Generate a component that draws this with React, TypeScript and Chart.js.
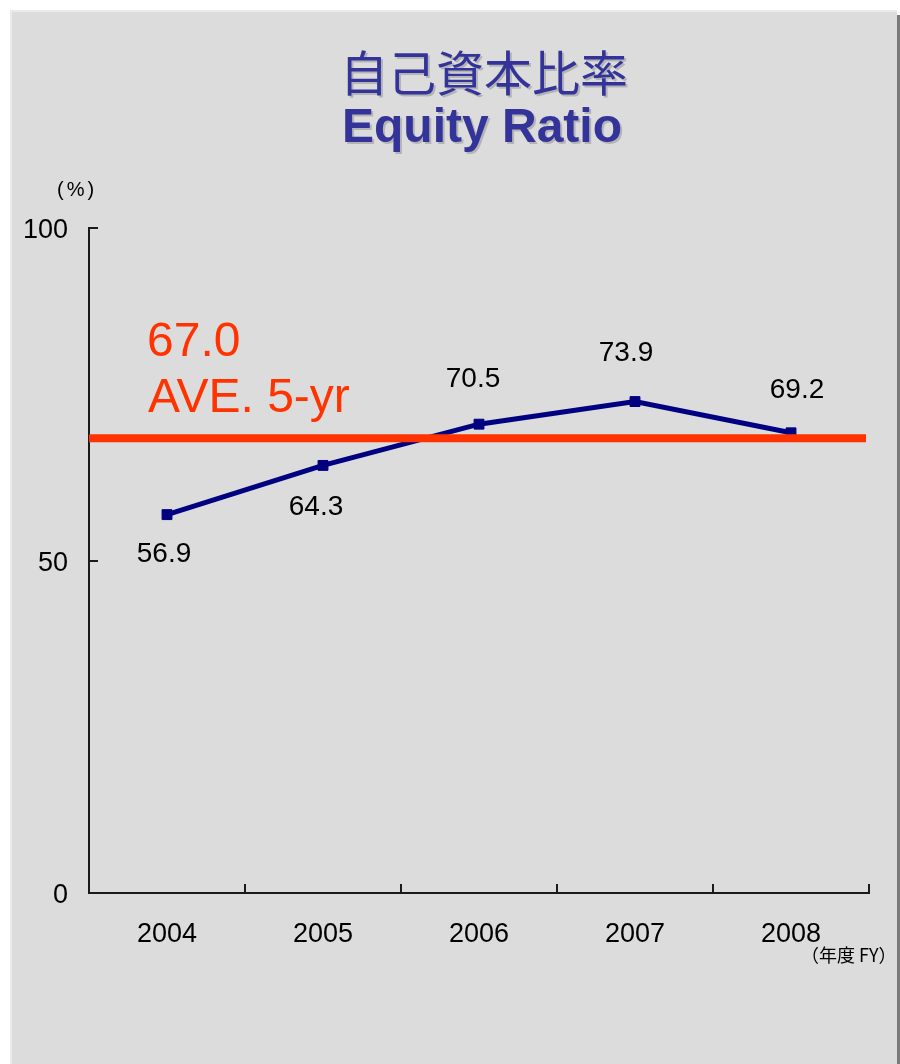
import React, { useEffect, useRef } from "react";
import { Chart, registerables } from "chart.js";

Chart.register(...registerables);

// ---- data ----
const years = ["2004", "2005", "2006", "2007", "2008"];
const equityRatio = [56.9, 64.3, 70.5, 73.9, 69.2];
const yTicks = [0, 50, 100];
const averageText = "67.0";
const averageCaption = "AVE. 5-yr";
const averageLineLevel = 68.4; // level at which the average bar is drawn in the picture
const titleJa = "自己資本比率";
const titleEn = "Equity Ratio";
const yUnit = "(%)";
const xUnit = "（年度 FY）";

// ---- layout (not data) ----
const labelOffsets: [number, number][] = [
  [-3, 40],
  [-7, 42],
  [-6, -45],
  [-9, -48],
  [6, -43],
];

const FONT = "'Liberation Sans', Arial, sans-serif";
const CJK = "'Noto Sans CJK JP', 'Liberation Sans', sans-serif";
const AXIS_COLOR = "#1a1a1a";

const decorPlugin = {
  id: "decor",
  afterDatasetsDraw(chart: any) {
    const { ctx, chartArea, scales } = chart;
    const xs = scales.x;
    const ys = scales.y;
    ctx.save();
    // inward tick marks
    ctx.strokeStyle = AXIS_COLOR;
    ctx.lineWidth = 2;
    yTicks.forEach((v) => {
      const py = Math.round(ys.getPixelForValue(v));
      ctx.beginPath();
      ctx.moveTo(chartArea.left, py);
      ctx.lineTo(chartArea.left + 9, py);
      ctx.stroke();
    });
    const n = years.length;
    for (let i = 0; i <= n; i++) {
      let px: number;
      if (i === 0) px = chartArea.left;
      else if (i === n) px = chartArea.right;
      else px = (xs.getPixelForValue(i - 1) + xs.getPixelForValue(i)) / 2;
      px = Math.round(px);
      ctx.beginPath();
      ctx.moveTo(px, chartArea.bottom);
      ctx.lineTo(px, chartArea.bottom - 9);
      ctx.stroke();
    }
    // average bar
    const ay = ys.getPixelForValue(averageLineLevel);
    ctx.strokeStyle = "#FF3300";
    ctx.lineWidth = 8;
    ctx.beginPath();
    ctx.moveTo(chartArea.left, ay);
    ctx.lineTo(chartArea.right - 3, ay);
    ctx.stroke();
    // data labels
    const meta = chart.getDatasetMeta(0);
    ctx.fillStyle = "#000";
    ctx.font = `28px ${FONT}`;
    ctx.textAlign = "center";
    ctx.textBaseline = "middle";
    meta.data.forEach((pt: any, i: number) => {
      const [dx, dy] = labelOffsets[i];
      ctx.fillText(equityRatio[i].toFixed(1), pt.x + dx, pt.y + dy);
    });
    ctx.restore();
  },
};

export default function App() {
  const canvasRef = useRef<HTMLCanvasElement | null>(null);

  useEffect(() => {
    const canvas = canvasRef.current;
    if (!canvas) return;
    const chart = new Chart(canvas, {
      type: "line",
      data: {
        labels: years,
        datasets: [
          {
            data: equityRatio,
            borderColor: "#000080",
            backgroundColor: "#000080",
            borderWidth: 5,
            pointStyle: "rect",
            pointRadius: 7,
            pointBorderWidth: 1,
            pointBackgroundColor: "#000080",
            pointBorderColor: "#000080",
            tension: 0,
            fill: false,
            clip: false,
          },
        ],
      },
      options: {
        responsive: false,
        animation: false,
        events: [],
        layout: { padding: { top: 228, right: 31, left: 0, bottom: 0 } },
        plugins: {
          legend: { display: false },
          tooltip: { enabled: false },
          title: { display: false },
        },
        scales: {
          x: {
            type: "category",
            offset: true,
            grid: { display: false, drawTicks: false, offset: true },
            border: { display: true, color: AXIS_COLOR, width: 2 },
            ticks: {
              color: "#000",
              font: { family: FONT, size: 27 },
              padding: 25,
              maxRotation: 0,
              autoSkip: false,
            },
            afterFit: (s: any) => {
              s.height = 171;
            },
          },
          y: {
            type: "linear",
            min: 0,
            max: 100,
            grid: { display: false, drawTicks: false },
            border: { display: true, color: AXIS_COLOR, width: 2 },
            ticks: {
              color: "#000",
              font: { family: FONT, size: 27 },
              padding: 21,
              labelOffset: 3,
            },
            afterBuildTicks: (s: any) => {
              s.ticks = yTicks.map((v) => ({ value: v }));
            },
            afterFit: (s: any) => {
              s.width = 89;
            },
          },
        },
      },
      plugins: [decorPlugin],
    });
    return () => chart.destroy();
  }, []);

  const abs = (o: React.CSSProperties): React.CSSProperties => ({
    position: "absolute",
    margin: 0,
    whiteSpace: "nowrap",
    ...o,
  });

  return (
    <div style={{ position: "absolute", left: 0, top: 0, width: 900, height: 1064, background: "#fff", overflow: "hidden" }}>
      <div
        style={abs({
          left: 10,
          top: 10,
          width: 887,
          height: 1054,
          background: "#DCDCDC",
          borderLeft: "2px solid #EBEBEB",
          borderTop: "2px solid #EBEBEB",
          boxSizing: "border-box",
        })}
      />
      <div style={abs({ left: 897, top: 15, width: 3, height: 1049, background: "#7a7a7a" })} />
      <canvas ref={canvasRef} width={900} height={1064} style={abs({ left: 0, top: 0, width: 900, height: 1064 })} />
      <div
        style={abs({
          left: 184,
          top: 46,
          width: 600,
          textAlign: "center",
          fontFamily: CJK,
          fontSize: 48,
          lineHeight: "48px",
          fontWeight: 400,
          color: "#333399",
          textShadow: "2px 2px 0 rgba(0,0,0,0.18)",
        })}
      >
        {titleJa}
      </div>
      <div
        style={abs({
          left: 182,
          top: 102,
          width: 600,
          textAlign: "center",
          fontFamily: FONT,
          fontSize: 48,
          lineHeight: "48px",
          fontWeight: 700,
          color: "#333399",
          textShadow: "2px 2px 0 rgba(0,0,0,0.18)",
        })}
      >
        {titleEn}
      </div>
      <div style={abs({ left: 147, top: 316, fontFamily: FONT, fontSize: 48, lineHeight: "48px", color: "#FF3300" })}>
        {averageText}
      </div>
      <div style={abs({ left: 148, top: 372, fontFamily: FONT, fontSize: 48, lineHeight: "48px", color: "#FF3300" })}>
        {averageCaption}
      </div>
      <div style={abs({ left: 57, top: 178, fontFamily: FONT, fontSize: 20, lineHeight: "22px", letterSpacing: 3, color: "#000" })}>
        {yUnit}
      </div>
      <div style={abs({ left: 801, top: 943, fontFamily: CJK, fontSize: 18, lineHeight: "22px", color: "#000" })}>
        {xUnit}
      </div>
    </div>
  );
}
